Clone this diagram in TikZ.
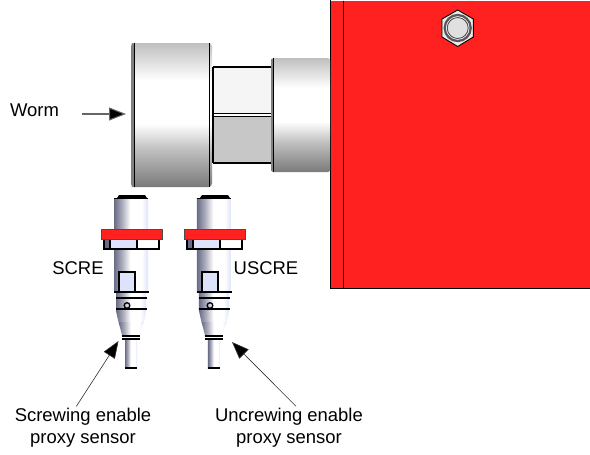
\documentclass[tikz,border=0pt]{standalone}
\usepackage{fontspec}
\setmainfont{Liberation Sans}
\usetikzlibrary{arrows.meta}
\definecolor{housingred}{RGB}{255,32,32}
\definecolor{windowblue}{RGB}{221,227,250}
\definecolor{edgeblue}{RGB}{105,108,135}
\pgfdeclareverticalshading{drumshade}{100bp}{color(0bp)=(black!52); color(25bp)=(black!52); color(38bp)=(black!25); color(47bp)=(white); color(62bp)=(white); color(75bp)=(black!25); color(100bp)=(black!25)}
\pgfdeclarehorizontalshading{sensorshade}{100bp}{color(0bp)=(edgeblue); color(25bp)=(edgeblue); color(37bp)=(edgeblue!55!white); color(49bp)=(white); color(66bp)=(white); color(75bp)=(windowblue); color(100bp)=(windowblue)}
\tikzset{
  caption/.style={font=\fontsize{10.5}{12.5}\selectfont,align=center,inner sep=1},
  pointer/.style={draw=black!80,line width=0.35pt,-{Triangle[length=0.34cm,width=0.26cm,fill=black]}},
  heavy/.style={line width=1.1pt},
  midline/.style={line width=0.75pt},
  thinline/.style={line width=0.5pt},
  drum/.style={shading=drumshade},
  sensor/.style={shading=sensorshade},
}
\begin{document}
\begin{tikzpicture}[x=0.02cm,y=-0.02cm]
\useasboundingbox (0,0) rectangle (590,454);
% red housing
\fill[housingred] (330,0.7) rectangle (590,288);
\draw[thinline] (330,0) -- (330,288) -- (590,288);
\draw[thinline] (343.5,0.7) -- (343.5,288);
\draw[thinline,fill=black!8] (457.7,10) -- (473.3,19) -- (473.3,37) -- (457.7,46.5) -- (442,37) -- (442,19) -- cycle;
\draw[line width=1.3pt,draw=black!65,fill=white] (457.7,28) circle[radius=13];
\draw[thinline,draw=black!70,fill=black!12] (457.7,28) circle[radius=10.5];
% drum
\shade[drum,rounded corners=2] (131,43) rectangle (212,187);
\fill[black!50,rounded corners=2] (131,43) rectangle (134.5,187);
\draw[thinline] (134.5,43) -- (134.5,187);
\draw[thinline] (209,43) -- (209,187);
% neck
\fill[black!4] (213,67) rectangle (272,113);
\fill[black!22] (213,116) rectangle (272,163);
\draw[heavy] (213,67) -- (272,67);
\draw[heavy] (213,163) -- (272,163);
\draw[thinline] (213,113) -- (272,113);
\draw[thinline] (213,116.5) -- (272,116.5);
\draw[line width=1.5pt] (213,67) -- (213,163);
% collar
\shade[drum,rounded corners=1] (271,58) rectangle (330,172);
\fill[black!50] (271,59) rectangle (273,171);
\draw[thinline] (273.5,58) -- (273.5,172);
% first sensor
\begin{scope}
\shade[sensor] (114,198) rectangle (148,292);
\shade[sensor] (116,292) -- (146,292) -- (146,311) -- (144,322) -- (118.5,322) -- (116,311) -- cycle;
\shade[sensor] (118.5,322) -- (144,322) .. controls (141,328) and (140,332) .. (140,336) -- (122,336) .. controls (121.5,332) and (120,328) .. (118.5,322) -- cycle;
\shade[sensor] (125,339) rectangle (137,368);
\fill[black] (117,198) -- (119,195) -- (145,195) -- (147,198) -- cycle;
\draw[thinline] (114,198.5) -- (148,198.5);
\fill[edgeblue] (104,239) rectangle (110,249);
\fill[windowblue] (110,239) rectangle (137,249);
\fill[white] (137,239) rectangle (159,249);
\draw[midline] (104,239) rectangle (159,249);
\draw[midline] (110,239) -- (110,249);
\draw[midline] (137,239) -- (137,249);
\fill[housingred] (101,229) rectangle (162,239);
\draw[line width=0.3pt,draw=black!70] (101,229) rectangle (162,239);
\draw[midline,fill=windowblue] (119,292) -- (119,272) -- (135,272) -- (135,292);
\draw[heavy] (114,292) -- (149,292);
\draw[midline] (116,298) -- (147,298);
\draw[midline] (116,309) -- (147,309);
\draw[midline] (127,305.5) circle[radius=2.8];
\draw[midline] (122,336) -- (140,336);
\draw[midline] (122,339) -- (140,339);
\draw[midline] (125,368) -- (137,368);
\coordinate (scrtip) at (118.5,341);
\end{scope}
% second sensor
\begin{scope}[xshift=1.66cm]
\shade[sensor] (114,198) rectangle (148,292);
\shade[sensor] (116,292) -- (146,292) -- (146,311) -- (144,322) -- (118.5,322) -- (116,311) -- cycle;
\shade[sensor] (118.5,322) -- (144,322) .. controls (141,328) and (140,332) .. (140,336) -- (122,336) .. controls (121.5,332) and (120,328) .. (118.5,322) -- cycle;
\shade[sensor] (125,339) rectangle (137,368);
\fill[black] (117,198) -- (119,195) -- (145,195) -- (147,198) -- cycle;
\draw[thinline] (114,198.5) -- (148,198.5);
\fill[edgeblue] (104,239) rectangle (110,249);
\fill[windowblue] (110,239) rectangle (137,249);
\fill[white] (137,239) rectangle (159,249);
\draw[midline] (104,239) rectangle (159,249);
\draw[midline] (110,239) -- (110,249);
\draw[midline] (137,239) -- (137,249);
\fill[housingred] (101,229) rectangle (162,239);
\draw[line width=0.3pt,draw=black!70] (101,229) rectangle (162,239);
\draw[midline,fill=windowblue] (119,292) -- (119,272) -- (135,272) -- (135,292);
\draw[heavy] (114,292) -- (149,292);
\draw[midline] (116,298) -- (147,298);
\draw[midline] (116,309) -- (147,309);
\draw[midline] (127,305.5) circle[radius=2.8];
\draw[midline] (122,336) -- (140,336);
\draw[midline] (122,339) -- (140,339);
\draw[midline] (125,368) -- (137,368);
\end{scope}
% labels
\node[caption] (worm) at (34.5,110) {Worm};
\node[caption] (scre) at (78,268.5) {SCRE};
\node[caption] (uscre) at (266,268.5) {USCRE};
\node[caption] (scrlabel) at (83,428) {Screwing enable\\proxy sensor};
\node[caption] (uscrlabel) at (289,428) {Uncrewing enable\\proxy sensor};
\coordinate (wormtip) at (126,114);
\coordinate (uscrtip) at (232,342);
\draw[pointer,draw=black!60,line width=0.6pt,shorten <=12] (worm.east |- wormtip) -- (wormtip);
\draw[pointer] (scrlabel.107) -- (scrtip);
\draw[pointer] (uscrlabel.72) -- (uscrtip);
\end{tikzpicture}
\end{document}
